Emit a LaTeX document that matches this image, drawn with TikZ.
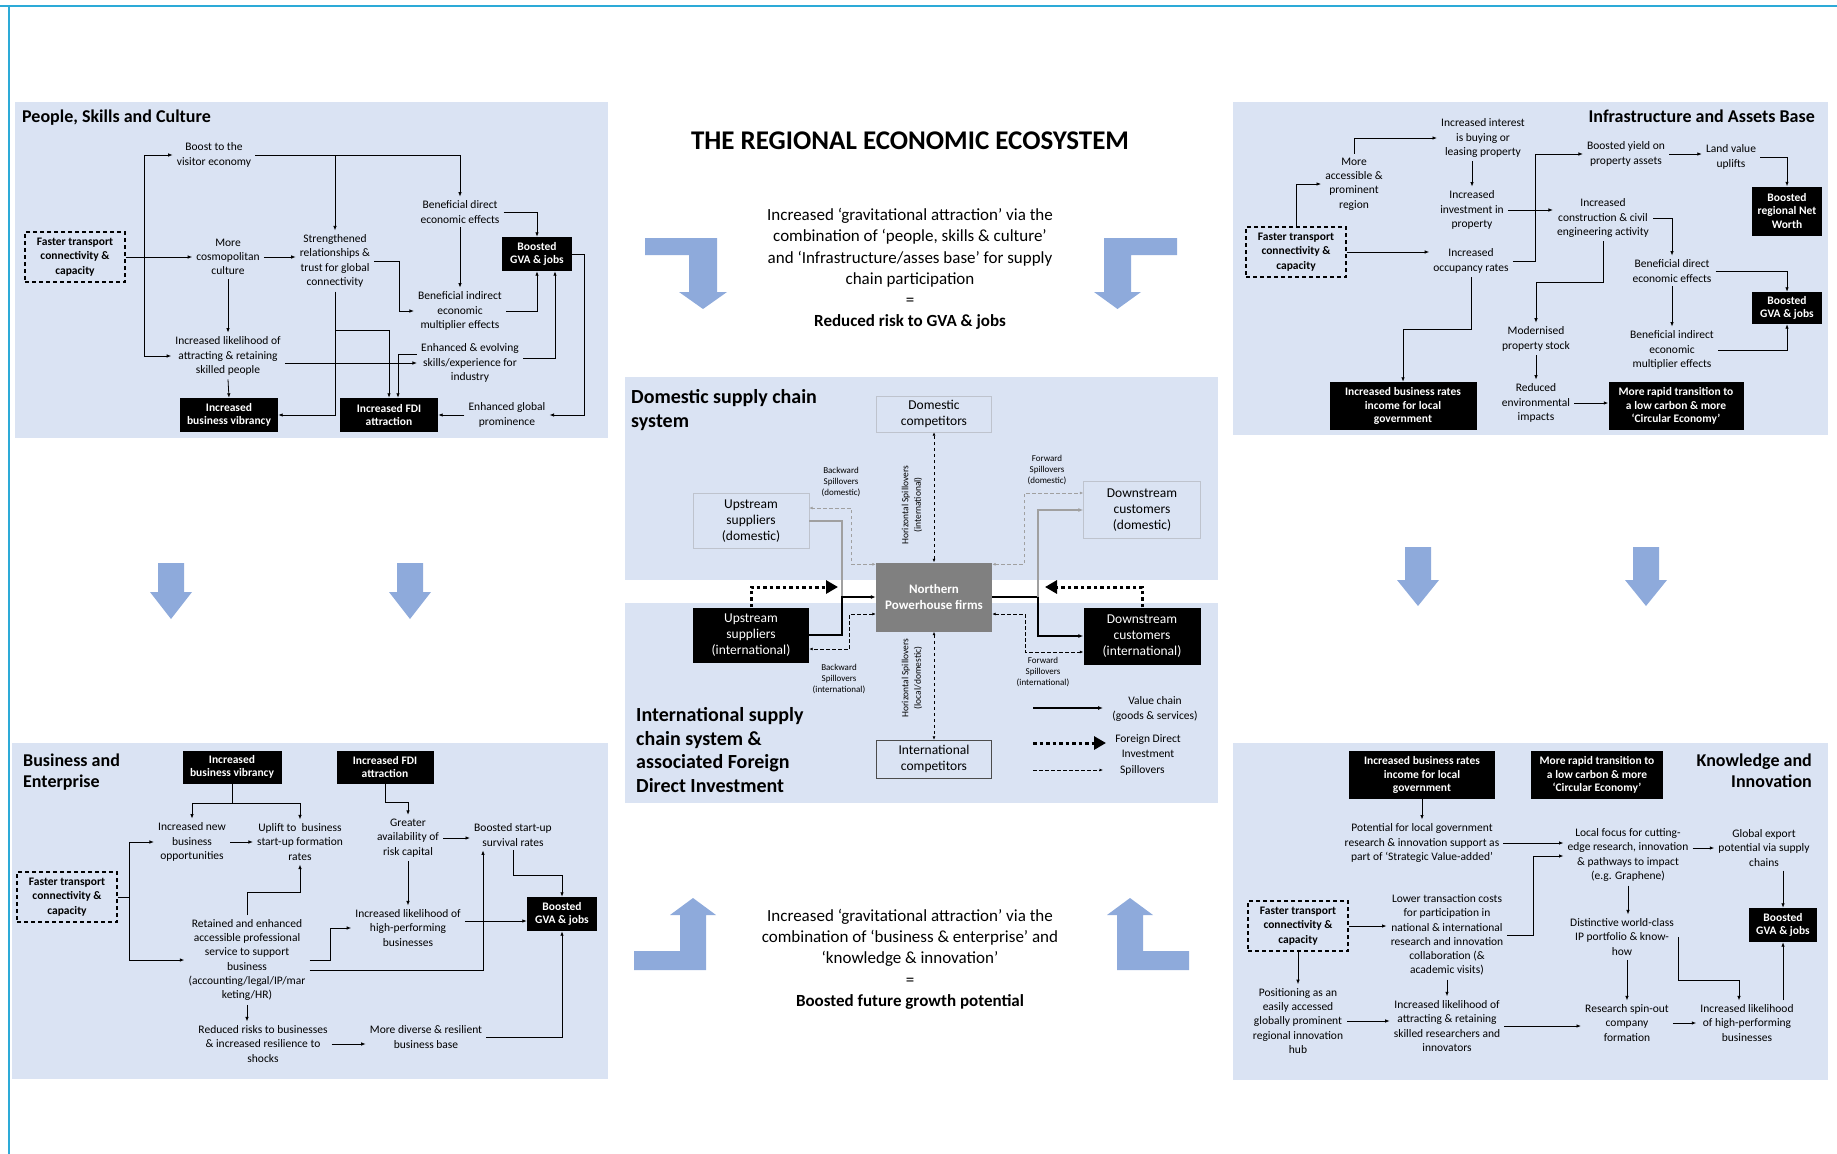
\documentclass[tikz,border=0pt]{standalone}
\usepackage{fontspec}
\setmainfont{Carlito}
\usetikzlibrary{arrows.meta, positioning, calc}
\definecolor{panelblue}{RGB}{218,227,243}
\definecolor{arrowblue}{RGB}{142,170,219}
\definecolor{framecyan}{RGB}{45,170,215}
\definecolor{npgray}{RGB}{128,128,128}
\definecolor{lightline}{RGB}{160,160,160}
\definecolor{boxline}{RGB}{190,195,205}
\tikzset{
  panel/.style={fill=panelblue},
  txt/.style={align=center, inner sep=4pt, font=\fontsize{11.5}{14.3}\selectfont},
  blk/.style={fill=black, text=white, align=center, inner sep=2pt,
              font=\fontsize{11.5}{13.7}\selectfont\bfseries},
  dbox/.style={draw, line width=1.1pt, dash pattern=on 4pt off 3pt,
               minimum width=100pt, minimum height=50pt, align=center,
               font=\fontsize{11.5}{14.3}\selectfont\bfseries},
  hdr/.style={inner sep=0pt, font=\fontsize{18}{21}\selectfont\bfseries},
  chdr/.style={inner sep=0pt, align=left, font=\fontsize{20}{23.8}\selectfont\bfseries},
  cbox/.style={align=center, inner sep=2pt, minimum width=116pt,
               font=\fontsize{13.5}{16}\selectfont},
  slbl/.style={align=center, inner sep=1pt, font=\fontsize{9}{11}\selectfont},
  lgd/.style={align=center, inner sep=1pt, font=\fontsize{11.5}{14.5}\selectfont},
  ctext/.style={align=center, font=\fontsize{17}{21.3}\selectfont},
  arr/.style={-{Latex[length=4.5pt,width=3.5pt]}, line width=0.8pt},
  ln/.style={line width=0.8pt},
  vc/.style={-{Latex[length=5pt,width=4pt]}, line width=1.1pt},
  spill/.style={line width=1pt, dash pattern=on 3.5pt off 2.5pt},
  sparr/.style={spill, {Latex[length=3.5pt,width=3pt]}-{Latex[length=3.5pt,width=3pt]}},
  fdi/.style={-{Triangle[length=12pt,width=13pt]}, line width=3pt, dash pattern=on 3.5pt off 3pt},
}
\begin{document}
\begin{tikzpicture}[x=1pt, y=-1pt]
  \useasboundingbox (0,0) rectangle (1837,1154);
  \draw[framecyan, line width=1.5pt] (0,6) -- (1837,6);
  \draw[framecyan, line width=1.5pt] (9,6) -- (9,1154);

  \fill[panel] (15,102) rectangle (608,438);
  \fill[panel] (1233,102) rectangle (1828,435);
  \fill[panel] (12,743) rectangle (608,1079);
  \fill[panel] (1233,743) rectangle (1828,1080);
  \fill[panel] (625,377) rectangle (1218,580);
  \fill[panel] (625,603) rectangle (1218,803);

  \fill[arrowblue] (645,238) -- (717,238) -- (717,292) -- (727,292) -- (703,309) -- (679,292) -- (689,292) -- (689,255) -- (645,255) -- cycle;
  \fill[arrowblue] (1177,238) -- (1104,238) -- (1104,292) -- (1094,292) -- (1117.5,309) -- (1141,292) -- (1131,292) -- (1131,255) -- (1177,255) -- cycle;
  \fill[arrowblue] (634,970) -- (706,970) -- (706,915) -- (716,915) -- (693,898) -- (670,915) -- (680,915) -- (680,951) -- (634,951) -- cycle;
  \fill[arrowblue] (1189,970) -- (1117,970) -- (1117,915) -- (1107,915) -- (1130,898) -- (1153,915) -- (1143,915) -- (1143,951) -- (1189,951) -- cycle;
  \fill[arrowblue] (158,563) -- (184,563) -- (184,592) -- (192,592) -- (171,619) -- (150,592) -- (158,592) -- cycle;
  \fill[arrowblue] (397,563) -- (423,563) -- (423,592) -- (431,592) -- (410,619) -- (389,592) -- (397,592) -- cycle;
  \fill[arrowblue] (1405,547) -- (1431,547) -- (1431,580) -- (1439,580) -- (1418,606) -- (1397,580) -- (1405,580) -- cycle;
  \fill[arrowblue] (1633,547) -- (1659,547) -- (1659,580) -- (1667,580) -- (1646,606) -- (1625,580) -- (1633,580) -- cycle;

  \node[font=\fontsize{27}{32}\selectfont\bfseries] (title) at (910,141) {THE REGIONAL ECONOMIC ECOSYSTEM};
  \node[ctext] (toptxt) at (910,269) {Increased ‘gravitational attraction’ via the\\combination of ‘people, skills \& culture’\\and ‘Infrastructure/asses base’ for supply\\chain participation\\=\\\textbf{Reduced risk to GVA \& jobs}};
  \node[ctext] (bottxt) at (910,959) {Increased ‘gravitational attraction’ via the\\combination of ‘business \& enterprise’ and\\‘knowledge \& innovation’\\=\\\textbf{Boosted future growth potential}};

  \node[hdr, anchor=west] (psc) at (22,118) {People, Skills and Culture};
  \node[dbox] (ft1) at (75,257) {Faster transport\\connectivity \&\\capacity};
  \node[txt] (visit1) at (214,155) {Boost to the\\visitor economy};
  \node[txt] (cosmo1) at (228,257) {More\\cosmopolitan\\culture};
  \node[txt] (likely1) at (228,356) {Increased likelihood of\\attracting \& retaining\\skilled people};
  \node[blk, minimum width=98pt, minimum height=34pt] (vib1) at (229,415) {Increased\\business vibrancy};
  \node[txt] (strength1) at (335,261) {Strengthened\\relationships \&\\trust for global\\connectivity};
  \node[txt] (bde1) at (460,212) {Beneficial direct\\economic effects};
  \node[txt] (bie1) at (460,311) {Beneficial indirect\\economic\\multiplier effects};
  \node[blk, minimum width=70pt, minimum height=34pt] (gva1) at (537,254) {Boosted\\GVA \& jobs};
  \node[txt] (skills1) at (470,363) {Enhanced \& evolving\\skills/experience for\\industry};
  \node[blk, minimum width=98pt, minimum height=34pt] (fdi1) at (389,415) {Increased FDI\\attraction};
  \node[txt] (prom1) at (507,415) {Enhanced global\\prominence};
  \coordinate (j1) at (144,257);
  \coordinate (j2) at (335,330);
  \coordinate (j3) at (399,261);

  \draw[arr] (ft1.east) -- (cosmo1.west);
  \draw[arr] (j1) |- (visit1.west);
  \draw[arr] (j1) |- (likely1.west);
  \draw[arr] (visit1.east) -| (bde1.north);
  \draw[arr] (strength1.north |- visit1.east) -- (strength1.north);
  \draw[arr] (cosmo1.east) -- (cosmo1.east -| strength1.west);
  \draw[arr] (cosmo1.south) -- (likely1.north);
  \draw[arr] (likely1.south) -- (vib1.north);
  \draw[arr] (likely1.east |- skills1.west) -- (skills1.west);
  \draw[arr] (strength1.east) -- (j3) |- (bie1.west);
  \draw[arr] (strength1.south) |- (vib1.east);
  \draw[arr] (j2) -| (fdi1.north);
  \draw[arr] ([yshift=9pt]skills1.west) -| ([xshift=9pt]fdi1.north);
  \draw[arr] ([yshift=5pt]skills1.east) -| ([xshift=18pt]gva1.south);
  \draw[arr] (bde1.east) -| (gva1.north);
  \draw[arr] (bde1.south) -- (bie1.north);
  \draw[arr] (bie1.east) -| (gva1.south);
  \draw[arr] (gva1.east) -- ++(12,0) |- (prom1.east);
  \draw[arr] (prom1.west) -- (fdi1.east);

  \node[hdr, anchor=east] (iab) at (1815,116) {Infrastructure and Assets Base};
  \node[dbox] (ft2) at (1296,252) {Faster transport\\connectivity \&\\capacity};
  \node[txt] (access2) at (1354,184) {More\\accessible \&\\prominent\\region};
  \node[txt] (interest2) at (1483,138) {Increased interest\\is buying or\\leasing property};
  \node[txt] (invest2) at (1472,210) {Increased\\investment in\\property};
  \node[txt] (occup2) at (1471,261) {Increased\\occupancy rates};
  \node[blk, minimum width=147pt, minimum height=48pt] (rates2) at (1403,406) {Increased business rates\\income for local\\government};
  \node[txt] (yield2) at (1626,154) {Boosted yield on\\property assets};
  \node[txt] (land2) at (1731,157) {Land value\\uplifts};
  \node[blk, minimum width=70pt, minimum height=49pt] (nw2) at (1787,211) {Boosted\\regional Net\\Worth};
  \node[txt] (constr2) at (1603,218) {Increased\\construction \& civil\\engineering activity};
  \node[txt] (bde2) at (1672,271) {Beneficial direct\\economic effects};
  \node[blk, minimum width=70pt, minimum height=32pt] (gva2) at (1787,308) {Boosted\\GVA \& jobs};
  \node[txt] (bie2) at (1672,350) {Beneficial indirect\\economic\\multiplier effects};
  \node[txt] (modern2) at (1536,339) {Modernised\\property stock};
  \node[txt] (reduced2) at (1536,403) {Reduced\\environmental\\impacts};
  \node[blk, minimum width=135pt, minimum height=48pt] (carbon2) at (1676,406) {More rapid transition to\\a low carbon \& more\\‘Circular Economy’};
  \coordinate (j4) at (1535,261);
  \coordinate (j5) at (1603,282);
  \coordinate (j6) at (1471,329);

  \draw[arr] (ft2.north) |- (access2.west);
  \draw[arr] (access2.north) |- (interest2.west);
  \draw[arr] (invest2.north |- interest2.south) -- (invest2.north);
  \draw[arr] (ft2.east) -- (ft2.east -| occup2.west);
  \draw[arr] (invest2.east) -- (invest2.east -| constr2.west);
  \draw[arr] (occup2.east) -- (j4) |- (yield2.west);
  \draw[arr] (yield2.east) -- (yield2.east -| land2.west);
  \draw[arr] (land2.east) -| (nw2.north);
  \draw[arr] (constr2.east) -| (bde2.north);
  \draw[arr] (constr2.south) -- (j5) -| (modern2.north);
  \draw[arr] (bde2.east) -| (gva2.north);
  \draw[arr] (bde2.south) -- (bie2.north);
  \draw[arr] (bie2.east) -| (gva2.south);
  \draw[arr] (modern2.south) -- (reduced2.north);
  \draw[arr] (reduced2.east) -- (reduced2.east -| carbon2.west);
  \draw[arr] (occup2.south) -- (j6) -| (rates2.north);

  \node[hdr, anchor=north west, align=left] (bae) at (23,754) {Business and\\Enterprise};
  \node[blk, minimum width=99pt, minimum height=33pt] (vib3) at (232,767) {Increased\\business vibrancy};
  \node[blk, minimum width=97pt, minimum height=33pt] (fdi3) at (385,767) {Increased FDI\\attraction};
  \node[dbox] (ft3) at (67,897) {Faster transport\\connectivity \&\\capacity};
  \node[txt] (newbiz3) at (192,842) {Increased new\\business\\opportunities};
  \node[txt] (uplift3) at (300,842) {Uplift to\ \ business\\start-up formation\\rates};
  \node[txt] (retained3) at (247,960) {Retained and enhanced\\accessible professional\\service to support\\business\\(accounting/legal/IP/mar\\keting/HR)};
  \node[txt] (reduced3) at (263,1044) {Reduced risks to businesses\\\& increased resilience to\\shocks};
  \node[txt] (greater3) at (408,838) {Greater\\availability of\\risk capital};
  \node[txt] (survival3) at (513,835) {Boosted start-up\\survival rates};
  \node[txt] (highperf3) at (408,928) {Increased likelihood of\\high-performing\\businesses};
  \node[blk, minimum width=70pt, minimum height=34pt] (gva3) at (562,914) {Boosted\\GVA \& jobs};
  \node[txt] (diverse3) at (426,1037) {More diverse \& resilient\\business base};
  \coordinate (j7) at (232,803);
  \coordinate (j8) at (129,897);
  \coordinate (j9) at (247,892);
  \coordinate (j10) at (330,960);
  \coordinate (j11) at (385,802);
  \coordinate (j12) at (513,875);

  \draw[ln] (vib3.south) -- (j7);
  \draw[arr] (j7) -| (newbiz3.north);
  \draw[arr] (j7) -| (uplift3.north);
  \draw[ln] (ft3.east) -- (j8);
  \draw[arr] (j8) |- (newbiz3.west);
  \draw[arr] (j8) |- (retained3.west);
  \draw[arr] (newbiz3.east) -- (uplift3.west);
  \draw[arr] (retained3.north) -- (j9) -| (uplift3.south);
  \draw[arr] (retained3.south) -- (retained3.south |- reduced3.north);
  \draw[arr] (retained3.east) -- (j10) |- (highperf3.west);
  \draw[arr] ([yshift=-10pt]retained3.east) -| ([xshift=-30pt]survival3.south);
  \draw[arr] (fdi3.south) -- (j11) -| (greater3.north);
  \draw[arr] (greater3.east) -- (greater3.east -| survival3.west);
  \draw[arr] (greater3.south) -- (highperf3.north);
  \draw[arr] ([yshift=7pt]highperf3.east) -- ([yshift=7pt]highperf3.east -| gva3.west);
  \draw[arr] (survival3.south) -- (j12) -| (gva3.north);
  \draw[arr] (diverse3.east) -| (gva3.south);
  \draw[arr] (reduced3.east) -- (reduced3.east -| diverse3.west);

  \node[hdr, anchor=north east, align=right] (kai) at (1812,754) {Knowledge and\\Innovation};
  \node[blk, minimum width=146pt, minimum height=48pt] (rates4) at (1422,775) {Increased business rates\\income for local\\government};
  \node[blk, minimum width=132pt, minimum height=48pt] (carbon4) at (1597,775) {More rapid transition to\\a low carbon \& more\\‘Circular Economy’};
  \node[txt] (potential4) at (1422,843) {Potential for local government\\research \& innovation support as\\part of ‘Strategic Value-added’};
  \node[txt] (lower4) at (1447,935) {Lower transaction costs\\for participation in\\national \& international\\research and innovation\\collaboration (\&\\academic visits)};
  \node[dbox] (ft4) at (1298,926) {Faster transport\\connectivity \&\\capacity};
  \node[txt] (position4) at (1298,1021) {Positioning as an\\easily accessed\\globally prominent\\regional innovation\\hub};
  \node[txt] (likely4) at (1447,1026) {Increased likelihood of\\attracting \& retaining\\skilled researchers and\\innovators};
  \node[txt] (local4) at (1628,855) {Local focus for cutting-\\edge research, innovation\\\& pathways to impact\\(e.g. Graphene)};
  \node[txt] (global4) at (1764,848) {Global export\\potential via supply\\chains};
  \node[blk, minimum width=68pt, minimum height=34pt] (gva4) at (1783,925) {Boosted\\GVA \& jobs};
  \node[txt] (ip4) at (1622,937) {Distinctive world-class\\IP portfolio \& know-\\how};
  \node[txt] (spinout4) at (1627,1023) {Research spin-out\\company\\formation};
  \node[txt] (hp4) at (1747,1023) {Increased likelihood\\of high-performing\\businesses};
  \coordinate (j13) at (1681,980);

  \draw[arr] (rates4.south) -- (potential4.north);
  \draw[arr] (potential4.east) -- (potential4.east -| local4.west);
  \draw[arr] (lower4.east) -- ++(26,0) |- ([yshift=-1pt]local4.west);
  \draw[arr] (ft4.east) -- (ft4.east -| lower4.west);
  \draw[arr] (ft4.south) -- (position4.north);
  \draw[arr] (lower4.south) -- (likely4.north);
  \draw[arr] (position4.east) -- (position4.east -| likely4.west);
  \draw[arr] (likely4.east) -- (likely4.east -| spinout4.west);
  \draw[arr] (global4.west -| local4.east) -- (global4.west);
  \draw[arr] (gva4.north |- global4.south) -- (gva4.north);
  \draw[arr] (local4.south) -- (local4.south |- ip4.north);
  \draw[arr] (spinout4.north |- ip4.south) -- (spinout4.north);
  \draw[arr] (ip4.east) |- (j13) -| ([xshift=-8pt]hp4.north);
  \draw[arr] (spinout4.east) -- (spinout4.east -| hp4.west);
  \draw[arr] (gva4.south |- hp4.north) -- (gva4.south);

  \node[chdr, anchor=north west] (dsc) at (631,389) {Domestic supply chain\\system};
  \node[chdr, anchor=north west] (isc) at (636,707) {International supply\\chain system \&\\associated Foreign\\Direct Investment};
  \node[cbox, draw=boxline, minimum width=115pt, minimum height=36pt] (domcomp) at (934,414) {Domestic\\competitors};
  \node[cbox, draw=boxline, minimum height=55pt] (upd) at (751,521) {Upstream\\suppliers\\(domestic)};
  \node[cbox, draw=boxline, minimum width=117pt, minimum height=57pt] (dsd) at (1142,510) {Downstream\\customers\\(domestic)};
  \node[cbox, fill=npgray, text=white, font=\fontsize{13}{16}\selectfont\bfseries, minimum height=69pt] (nph) at (934,597) {Northern\\Powerhouse firms};
  \node[cbox, fill=black, text=white, minimum height=55pt] (upi) at (751,635) {Upstream\\suppliers\\(international)};
  \node[cbox, fill=black, text=white, minimum width=117pt, minimum height=57pt] (dsi) at (1142,636) {Downstream\\customers\\(international)};
  \node[cbox, draw=black!70, minimum width=115pt, minimum height=38pt] (intcomp) at (934,759) {International\\competitors};
  \coordinate (v1) at (842,597);
  \coordinate (v2) at (1038,597);
  \coordinate (fl) at (838,587);
  \coordinate (fr) at (1045,587);

  \draw[draw=lightline, line width=1.1pt] (upd.east) -| (v1);
  \draw[vc] (upi.east) -| (v1) -- (nph.west);
  \draw[line width=1.1pt] (nph.east) -- (v2);
  \draw[vc] (v2) |- (dsi.west);
  \draw[vc, draw=lightline] (v2) |- (dsd.west);
  \draw[sparr, draw=lightline] ([yshift=-2pt]nph.north west) -- ++(-24,0) |- ([yshift=13pt]upd.east);
  \draw[sparr] ([yshift=-17pt]nph.west) -- ++(-26,0) |- ([yshift=-14pt]upi.east);
  \draw[sparr, draw=lightline] ([yshift=-2pt]nph.north east) -- ++(32,0) |- ([yshift=17pt]dsd.west);
  \draw[sparr] ([yshift=-17pt]nph.east) -- ++(33,0) |- ([yshift=-16pt]dsi.west);
  \draw[sparr] (nph.north) -- (domcomp.south);
  \draw[sparr] (nph.south) -- (intcomp.north);
  \draw[fdi] (upi.north) |- (fl);
  \draw[fdi] (dsi.north) |- (fr);

  \node[slbl] (bsd) at (841,482) {Backward\\Spillovers\\(domestic)};
  \node[slbl] (bsi) at (839,679) {Backward\\Spillovers\\(international)};
  \node[slbl] (fsd) at (1047,470) {Forward\\Spillovers\\(domestic)};
  \node[slbl] (fsi) at (1043,672) {Forward\\Spillovers\\(international)};
  \node[slbl, rotate=90, font=\fontsize{9.5}{12.5}\selectfont] (hsi) at (912,505) {Horizontal Spillovers\\(international)};
  \node[slbl, rotate=90, font=\fontsize{9.5}{12.5}\selectfont] (hsl) at (912,678) {Horizontal Spillovers\\(local/domestic)};

  \coordinate (lv1) at (1033,708);
  \coordinate (lv2) at (1103,708);
  \coordinate (lf1) at (1033,743);
  \coordinate (lf2) at (1106,743);
  \coordinate (ls1) at (1033,770);
  \coordinate (ls2) at (1103,770);
  \draw[vc] (lv1) -- (lv2);
  \draw[fdi] (lf1) -- (lf2);
  \draw[spill, -{Latex[length=3.5pt,width=3pt]}] (ls1) -- (ls2);
  \node[lgd] (lvt) at (1155,709) {Value chain\\(goods \& services)};
  \node[lgd] (lft) at (1148,746) {Foreign Direct\\Investment};
  \node[lgd, anchor=west] (lst) at (1119,770) {Spillovers};
\end{tikzpicture}
\end{document}
